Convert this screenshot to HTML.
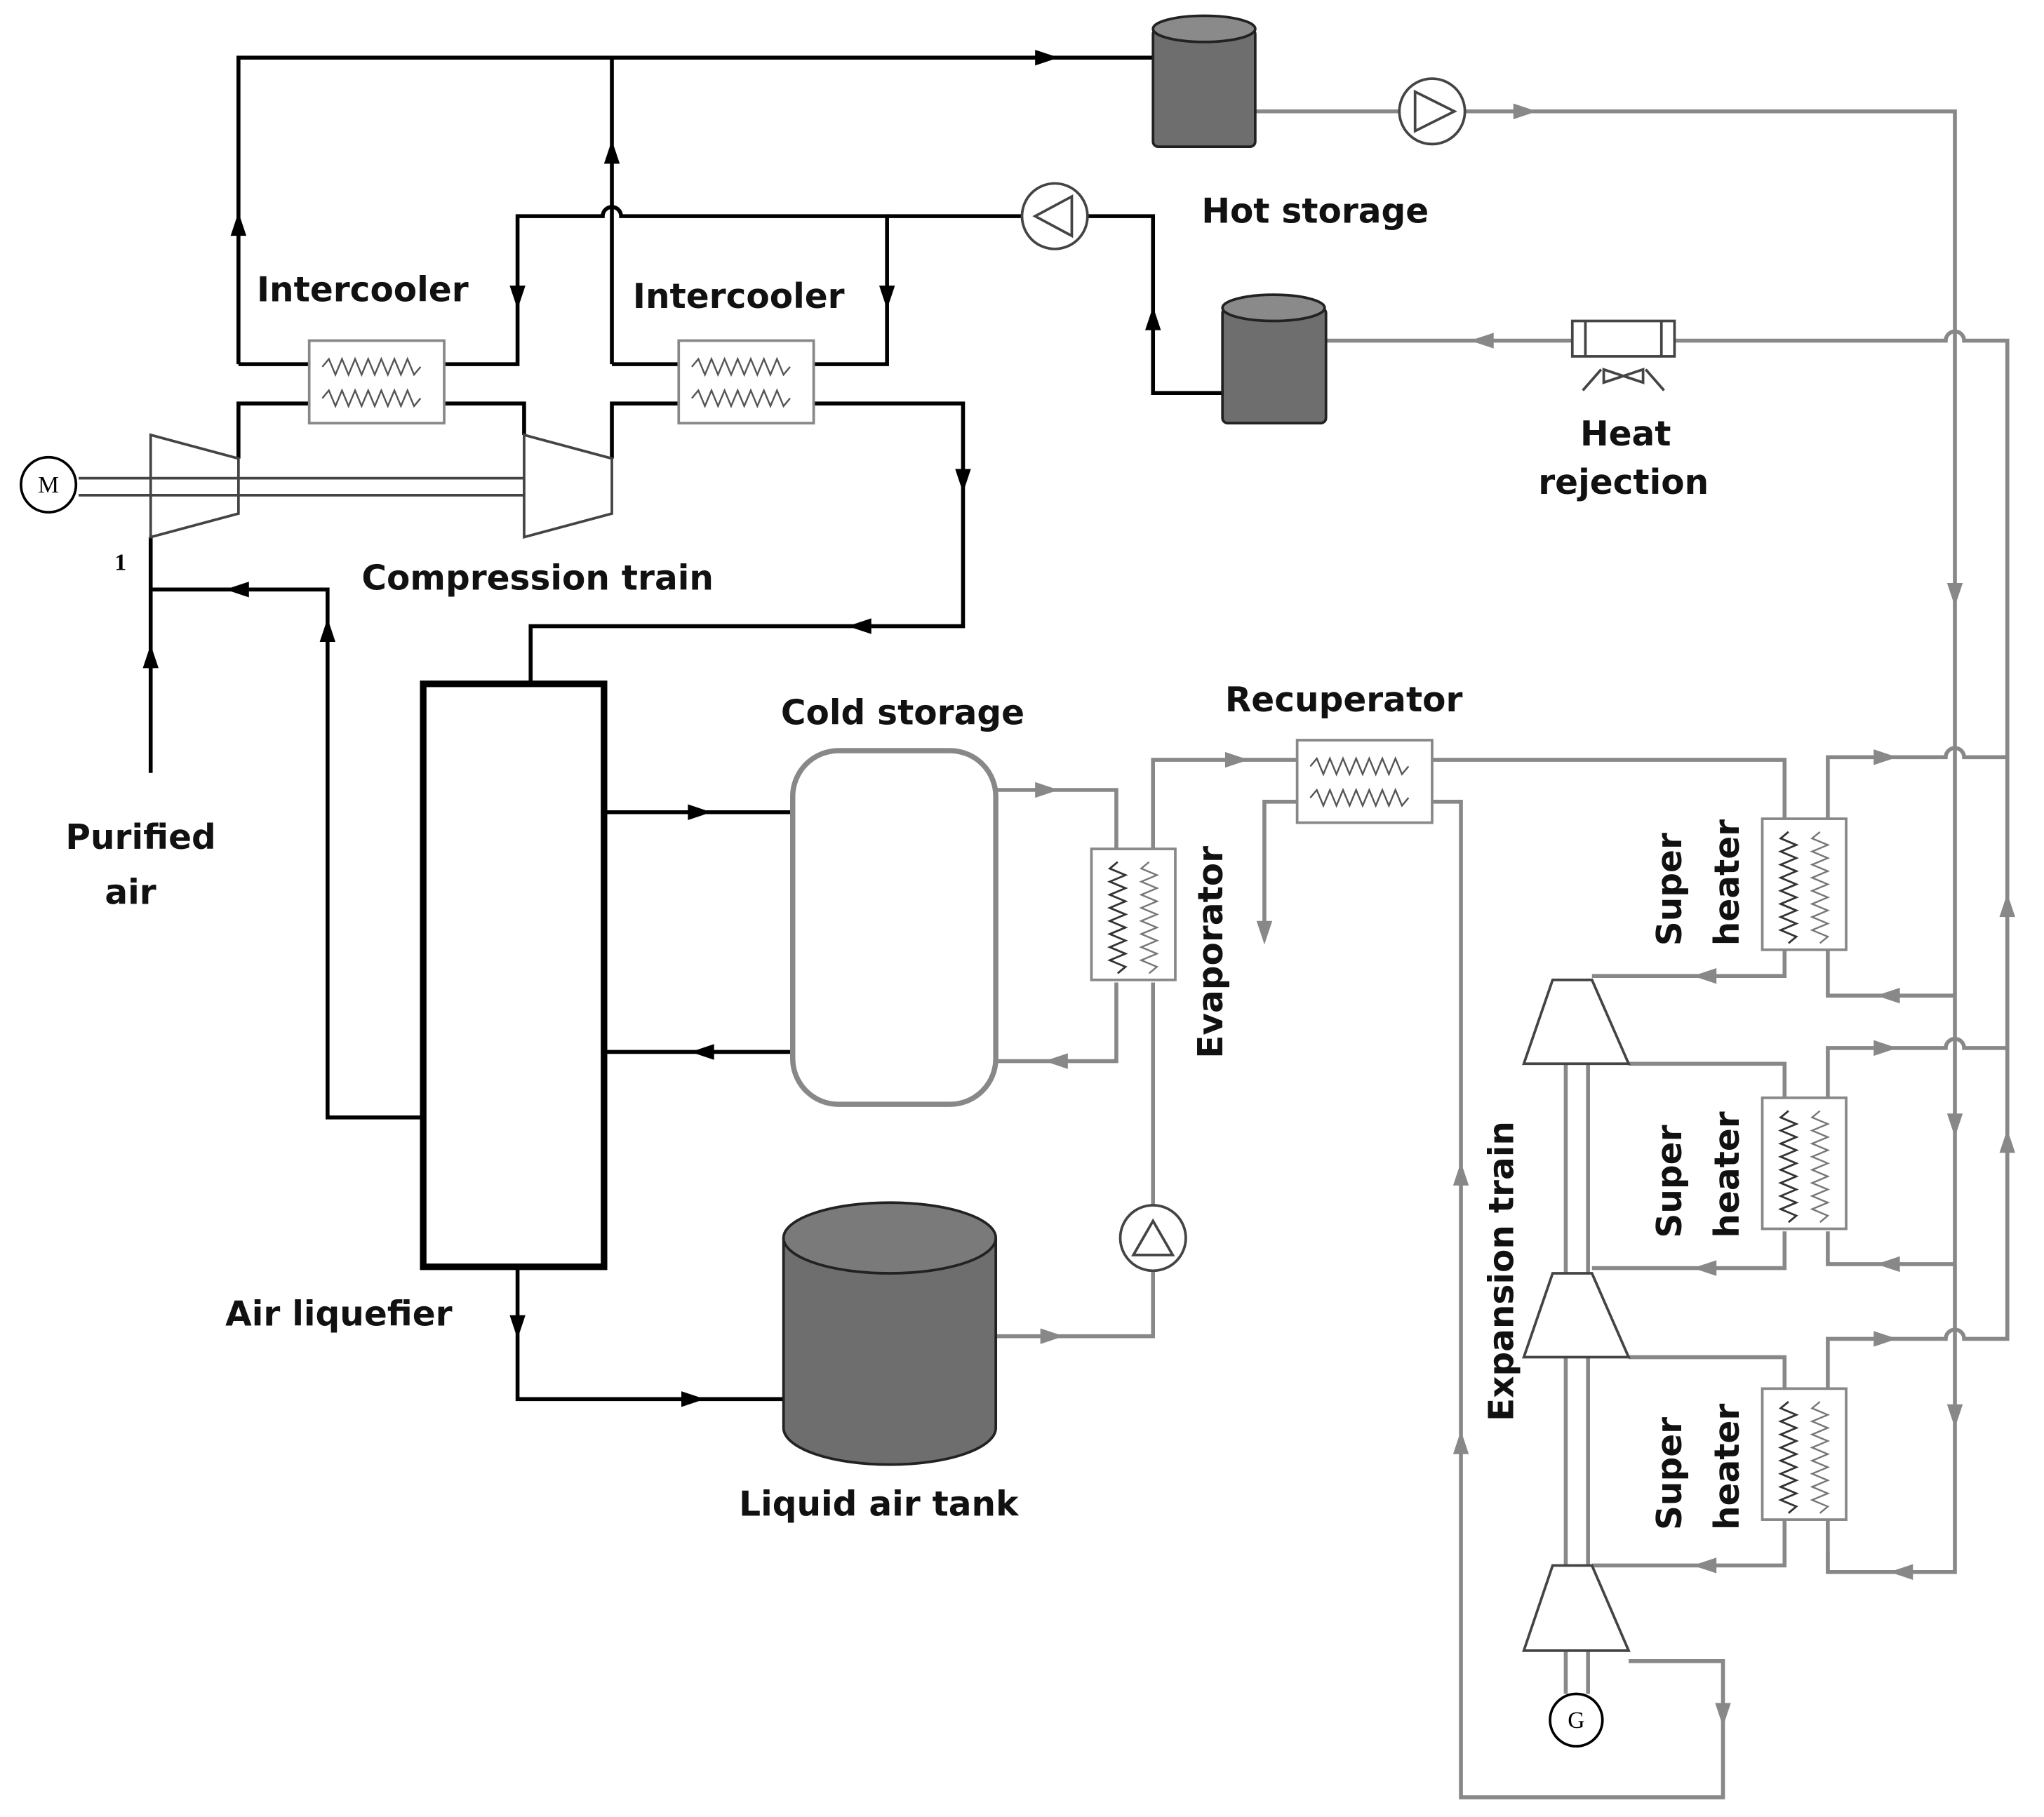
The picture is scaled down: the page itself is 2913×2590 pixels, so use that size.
<!DOCTYPE html>
<html><head><style>html,body{margin:0;padding:0;background:#fff}svg{display:block}</style></head>
<body>
<svg width="2913" height="2590" viewBox="0 0 1560 1387" xmlns="http://www.w3.org/2000/svg" font-family="Liberation Sans, sans-serif">
<defs>
<g id="hx"><rect x="0" y="0" width="103" height="63" fill="#fff" stroke="#888" stroke-width="2"/><path d="M10,20 l5,-6 5,12 5,-12 5,12 5,-12 5,12 5,-12 5,12 5,-12 5,12 5,-12 5,12 5,-12 5,12 5,-6" fill="none" stroke="#555" stroke-width="1.3"/><path d="M10,44 l5,-6 5,12 5,-12 5,12 5,-12 5,12 5,-12 5,12 5,-12 5,12 5,-12 5,12 5,-12 5,12 5,-6" fill="none" stroke="#555" stroke-width="1.3"/></g>
<g id="vhx"><rect x="0" y="0" width="64" height="100" fill="#fff" stroke="#888" stroke-width="2"/><path d="M20,10 l-6,5 12,5 -12,5 12,5 -12,5 12,5 -12,5 12,5 -12,5 12,5 -12,5 12,5 -12,5 12,5 -12,5 12,5 -6,5" fill="none" stroke="#333" stroke-width="1.5"/><path d="M44,10 l-6,5 12,5 -12,5 12,5 -12,5 12,5 -12,5 12,5 -12,5 12,5 -12,5 12,5 -12,5 12,5 -12,5 12,5 -6,5" fill="none" stroke="#777" stroke-width="1.3"/></g>
</defs>
<g fill="none" stroke="#000" stroke-width="3">
<path d="M182,278 V44 H880"/><path d="M467,278 V44"/>
<path d="M339,278 H395 V165 H460 a7,7 0 0 1 14,0 H677 V278 H620"/><path d="M182,278 H236 M467,278 H518"/>
<path d="M182,350 V308 H236 M339,308 H400 V332 M467,350 V308 H518 M620,308 H735 V478 H405 V520"/>
<path d="M677,165 H780 M830,165 H880 V300 H933"/>
<path d="M115,410 V590 M115,450 H250 V853 H323"/>
<path d="M461,620 H605 M605,803 H461 M395,967 V1068 H598"/>
</g>
<g fill="#000">
<path d="M790,38 l18,6 -18,6z"/><path d="M176,180 l6,-18 6,18z"/><path d="M461,125 l6,-18 6,18z"/>
<path d="M389,218 l6,18 6,-18z"/><path d="M671,218 l6,18 6,-18z"/><path d="M874,252 l6,-18 6,18z"/>
<path d="M729,358 l6,18 6,-18z"/><path d="M665,472 l-18,6 18,6z"/><path d="M109,510 l6,-18 6,18z"/>
<path d="M190,444 l-18,6 18,6z"/><path d="M244,490 l6,-18 6,18z"/><path d="M525,614 l18,6 -18,6z"/>
<path d="M545,797 l-18,6 18,6z"/><path d="M389,1004 l6,18 6,-18z"/><path d="M520,1062 l18,6 -18,6z"/>
</g>
<g fill="none" stroke="#888" stroke-width="3">
<path d="M958,85 H1068 M1118,85 H1492 V1200 H1395 V1185"/>
<path d="M1012,260 H1200 M1278,260 H1485 a7,7 0 0 1 14,0 H1532 V1022 H1499 a7,7 0 0 0 -14,0 H1395 V1060"/>
<path d="M760,603 H852 V648 M852,750 V810 H760"/>
<path d="M880,648 V580 H990 M880,750 V920 M880,970 V1020 H760"/>
<path d="M990,612 H965 V715"/>
<path d="M1093,580 H1362 V625 M1093,612 H1115 V1372 H1315 V1268 H1243"/>
<path d="M1362,725 V745 H1215"/>
<path d="M1243,812 H1362 V838"/><path d="M1362,940 V968 H1215"/>
<path d="M1243,1036 H1362 V1060"/><path d="M1362,1160 V1195 H1215"/>
<path d="M1395,625 V578 H1485 a7,7 0 0 1 14,0 H1532"/><path d="M1395,725 V760 H1492"/>
<path d="M1395,838 V800 H1485 a7,7 0 0 1 14,0 H1532"/><path d="M1395,940 V965 H1492"/>
<path d="M1395,1160 V1200"/>
<path d="M1195,812 V1293 M1212,812 V1293"/>
</g>
<g fill="#888">
<path d="M1155,79 l18,6 -18,6z"/><path d="M1140,254 l-18,6 18,6z"/><path d="M1486,445 l6,18 6,-18z"/>
<path d="M1486,850 l6,18 6,-18z"/><path d="M1486,1072 l6,18 6,-18z"/><path d="M1526,880 l6,-18 6,18z"/>
<path d="M1526,700 l6,-18 6,18z"/><path d="M790,597 l18,6 -18,6z"/><path d="M815,804 l-18,6 18,6z"/>
<path d="M935,574 l18,6 -18,6z"/><path d="M794,1014 l18,6 -18,6z"/><path d="M959,703 l6,18 6,-18z"/>
<path d="M1109,905 l6,-18 6,18z"/><path d="M1109,1110 l6,-18 6,18z"/><path d="M1309,1300 l6,18 6,-18z"/>
<path d="M1310,739 l-18,6 18,6z"/><path d="M1310,962 l-18,6 18,6z"/><path d="M1310,1189 l-18,6 18,6z"/>
<path d="M1430,572 l18,6 -18,6z"/><path d="M1430,794 l18,6 -18,6z"/><path d="M1430,1016 l18,6 -18,6z"/>
<path d="M1450,754 l-18,6 18,6z"/><path d="M1450,959 l-18,6 18,6z"/><path d="M1460,1194 l-18,6 18,6z"/>
</g>
<use href="#hx" x="236" y="260"/><use href="#hx" x="518" y="260"/><use href="#hx" x="990" y="565"/>
<use href="#vhx" x="833" y="648"/><use href="#vhx" x="1345" y="625"/><use href="#vhx" x="1345" y="838"/><use href="#vhx" x="1345" y="1060"/>
<g stroke="#222" stroke-width="2" fill="#6e6e6e">
<rect x="880" y="22" width="78" height="90" rx="4"/><ellipse cx="919" cy="22" rx="39" ry="10" fill="#8a8a8a"/>
<rect x="933" y="235" width="79" height="88" rx="4"/><ellipse cx="972" cy="235" rx="39" ry="10" fill="#8a8a8a"/>
<path d="M598,945 V1090 A81,28 0 0 0 760,1090 V945" /><ellipse cx="679" cy="945" rx="81" ry="27" fill="#7a7a7a"/>
</g>
<rect x="605" y="573" width="155" height="270" rx="35" fill="#fff" stroke="#888" stroke-width="4"/>
<rect x="323" y="522" width="138" height="445" fill="#fff" stroke="#000" stroke-width="5"/>
<g stroke="#444" stroke-width="2" fill="#fff">
<path d="M115,332 L182,350 L182,392 L115,410z"/><path d="M400,332 L467,350 L467,392 L400,410z"/>
<path d="M1185,748 L1215,748 L1243,812 L1163,812z"/><path d="M1185,972 L1215,972 L1243,1036 L1163,1036z"/><path d="M1185,1195 L1215,1195 L1243,1260 L1163,1260z"/>
<path d="M60,365 H400 M60,378 H400"/>
<circle cx="37" cy="370" r="21" stroke="#000"/><circle cx="1203" cy="1313" r="20" stroke="#000"/>
<circle cx="1093" cy="85" r="25"/><circle cx="805" cy="165" r="25"/><circle cx="880" cy="945" r="25"/>
<path d="M1080,70 L1110,85 L1080,100z"/><path d="M818,150 L790,165 L818,180z"/><path d="M865,958 L880,932 L895,958z"/>
<rect x="1200" y="245" width="78" height="27"/>
<path d="M1210,245 V272 M1268,245 V272 M1222,282 L1208,298 M1256,282 L1270,298"/>
<path d="M1224,282 l15,5 -15,5z M1254,282 l-15,5 15,5z" fill="#fff"/>
</g>
<g font-family="Liberation Serif, serif" font-size="18" text-anchor="middle"><text x="37" y="376">M</text><text x="1203" y="1319">G</text><text x="92" y="435" font-weight="bold">1</text></g>
<g font-family="DejaVu Sans, sans-serif" font-size="26" font-weight="bold" fill="#111">
<text x="917" y="170">Hot storage</text>
<text x="196" y="230">Intercooler</text><text x="483" y="235">Intercooler</text>
<text x="1206" y="340">Heat</text><text x="1174" y="377">rejection</text>
<text x="276" y="450">Compression train</text>
<text x="50" y="648">Purified</text><text x="80" y="690">air</text>
<text x="596" y="553">Cold storage</text><text x="935" y="543">Recuperator</text>
<text x="172" y="1012">Air liquefier</text><text x="564" y="1157">Liquid air tank</text>
<text transform="translate(933,808) rotate(-90)">Evaporator</text>
<text transform="translate(1155,1085) rotate(-90)">Expansion train</text>
<text transform="translate(1283,722) rotate(-90)">Super</text><text transform="translate(1327,722) rotate(-90)">heater</text>
<text transform="translate(1283,945) rotate(-90)">Super</text><text transform="translate(1327,945) rotate(-90)">heater</text>
<text transform="translate(1283,1168) rotate(-90)">Super</text><text transform="translate(1327,1168) rotate(-90)">heater</text>
</g>
</svg>
</body></html>
